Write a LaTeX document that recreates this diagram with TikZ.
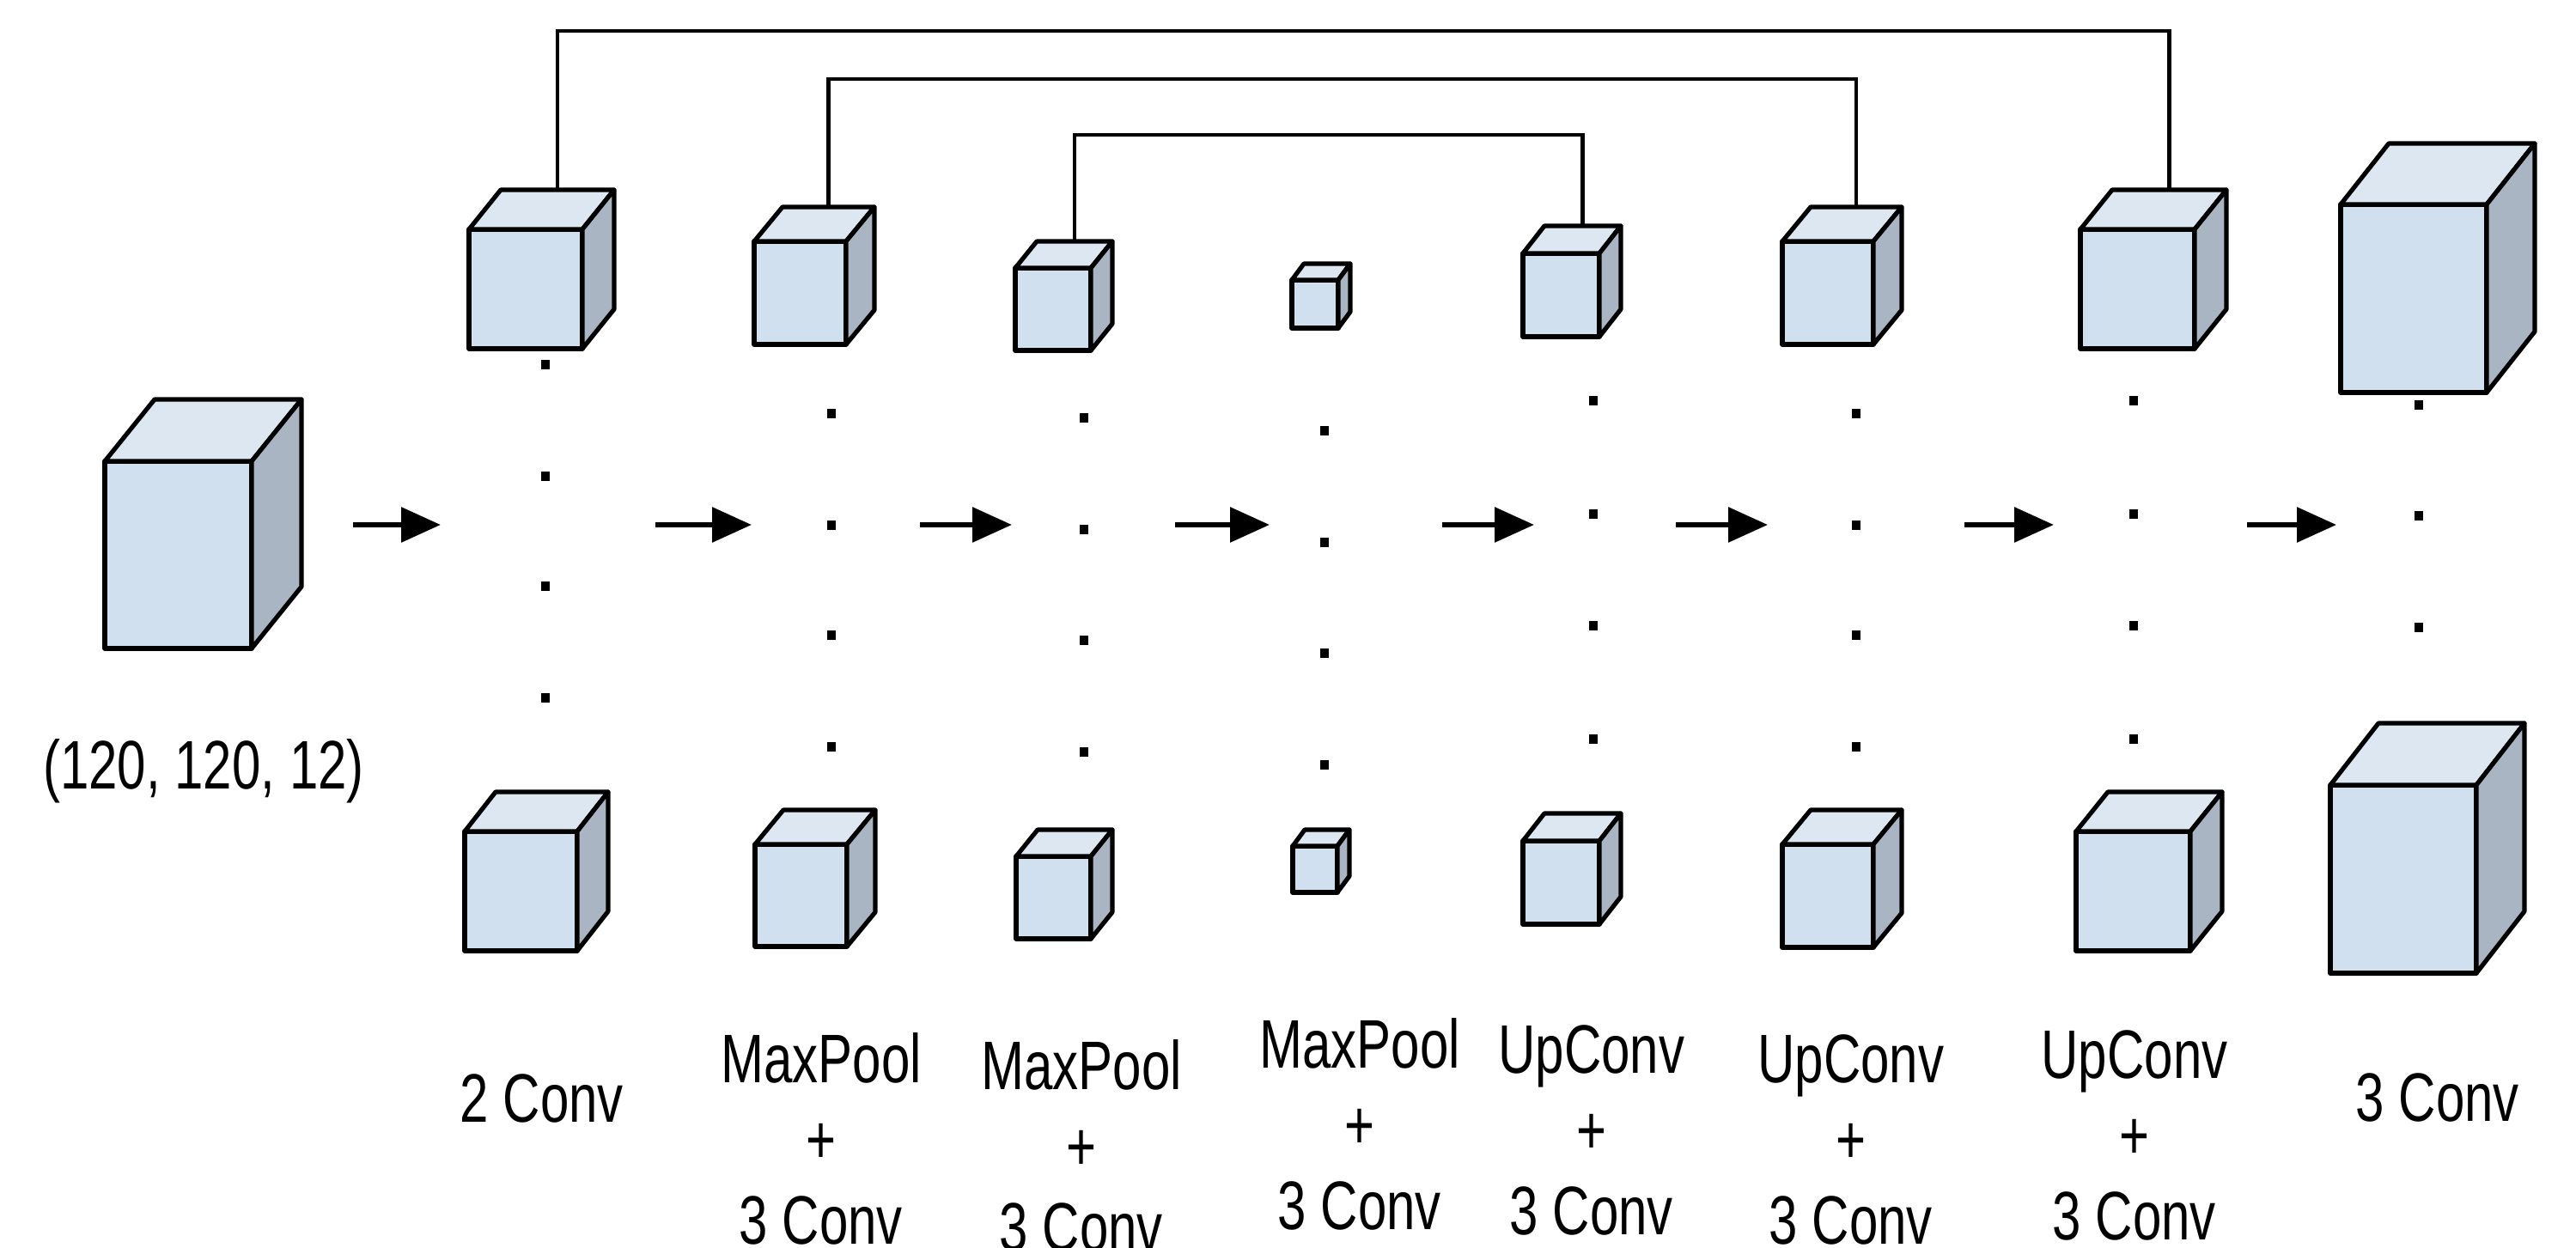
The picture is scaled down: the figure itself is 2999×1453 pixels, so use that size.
\documentclass[tikz,border=0pt]{standalone}
\usepackage{fontspec}
\setmainfont{Liberation Sans}[FakeStretch=0.75]
\usetikzlibrary{arrows.meta}
\definecolor{cubefront}{RGB}{208,224,239}
\definecolor{cubetop}{RGB}{220,231,242}
\definecolor{cubeside}{RGB}{169,181,194}
\tikzset{
  cubeline/.style={draw=black, line width=1.3pt, line join=round},
  skipline/.style={draw=black, line width=1.1pt},
  flowarrow/.style={draw=black, line width=1.5pt, -{Triangle[length=11.5pt,width=10pt]}},
  dotmark/.style={fill=black, draw=none},
  lbl/.style={font=\fontsize{20pt}{23.5pt}\selectfont, inner sep=0pt, align=center},
}
% #1 name, #2 x, #3 y (front top-left), #4 width, #5 height, #6 depth x, #7 depth up
\newcommand{\drawcube}[7]{%
  \filldraw[cubeline, fill=cubefront] (#2,#3) rectangle ({#2+#4},{#3+#5});
  \filldraw[cubeline, fill=cubetop] (#2,#3) -- ({#2+#6},{#3-#7}) -- ({#2+#4+#6},{#3-#7}) -- ({#2+#4},#3) -- cycle;
  \filldraw[cubeline, fill=cubeside] ({#2+#4},#3) -- ({#2+#4+#6},{#3-#7}) -- ({#2+#4+#6},{#3+#5-#7}) -- ({#2+#4},{#3+#5}) -- cycle;
  \coordinate (#1) at ({#2+#4/2+#6},{#3-#7});
}
\newcommand{\dotcolumn}[2]{%
  \foreach \yy in {#2} {\fill[dotmark] ({#1-5},{\yy-5.5}) rectangle ++(10,11);}
}
\begin{document}
\begin{tikzpicture}[x=0.25pt, y=-0.25pt]
\useasboundingbox (0,0) rectangle (2999,1453);

% cubes
\drawcube{cin}{122}{537}{171}{218}{58}{72}
\drawcube{c1t}{546}{267}{132}{139}{37}{46}
\drawcube{c1b}{541}{968}{131}{139}{36}{46}
\drawcube{c2t}{878}{281}{107}{120}{33}{40}
\drawcube{c2b}{879}{983}{107}{119}{33}{40}
\drawcube{c3t}{1182}{312}{88}{96}{25}{31}
\drawcube{c3b}{1183}{997}{87}{96}{25}{31}
\drawcube{c4t}{1504}{326}{54}{56}{14}{19}
\drawcube{c4b}{1505}{985}{52}{54}{14}{19}
\drawcube{c5t}{1773}{295}{89}{97}{25}{32}
\drawcube{c5b}{1773}{979}{89}{97}{25}{32}
\drawcube{c6t}{2075}{281}{106}{120}{33}{40}
\drawcube{c6b}{2075}{983}{106}{120}{33}{40}
\drawcube{c7t}{2422}{267}{133}{139}{37}{46}
\drawcube{c7b}{2417}{968}{133}{139}{37}{46}
\drawcube{c8t}{2725}{238}{170}{219}{56}{71}
\drawcube{c8b}{2713}{914}{170}{219}{56}{72}

% skip connections
\coordinate (s1) at (0,36);
\coordinate (s2) at (0,92);
\coordinate (s3) at (0,157);
\draw[skipline] (c1t) -- (c1t |- s1) -| (c7t);
\draw[skipline] (c2t) -- (c2t |- s2) -| (c6t);
\draw[skipline] (c3t) -- (c3t |- s3) -| (c5t);

% dots
\dotcolumn{635}{425,555,683,813}
\dotcolumn{968}{482,612,740,870}
\dotcolumn{1262}{487,617,746,876}
\dotcolumn{1542}{502,632,761,891}
\dotcolumn{1855}{467,599,729,861}
\dotcolumn{2161}{482,612,740,870}
\dotcolumn{2484}{467,599,729,861}
\dotcolumn{2816}{472,601,731}

% arrows
\foreach \i/\xs/\xe in {1/411/513, 2/763/875, 3/1071/1178, 4/1368/1478, 5/1679/1786, 6/1951/2058, 7/2287/2391, 8/2616/2720} {
  \coordinate (a\i s) at (\xs,611);
  \coordinate (a\i e) at (\xe,611);
  \draw[flowarrow] (a\i s) -- (a\i e);
}

% labels
\node[lbl] (lin) at (237,898) {(120, 120, 12)};
\node[lbl] (l1) at (631,1279) {2 Conv};
\node[lbl, anchor=north] (l2) at (956,1202) {MaxPool\\+\\3 Conv};
\node[lbl, anchor=north] (l3) at (1259,1210) {MaxPool\\+\\3 Conv};
\node[lbl, anchor=north] (l4) at (1583,1185) {MaxPool\\+\\3 Conv};
\node[lbl, anchor=north] (l5) at (1853,1193) {UpConv\\+\\3 Conv};
\node[lbl, anchor=north] (l6) at (2155,1204) {UpConv\\+\\3 Conv};
\node[lbl, anchor=north] (l7) at (2485,1199) {UpConv\\+\\3 Conv};
\node[lbl] (l8) at (2838,1278) {3 Conv};
\end{tikzpicture}
\end{document}
